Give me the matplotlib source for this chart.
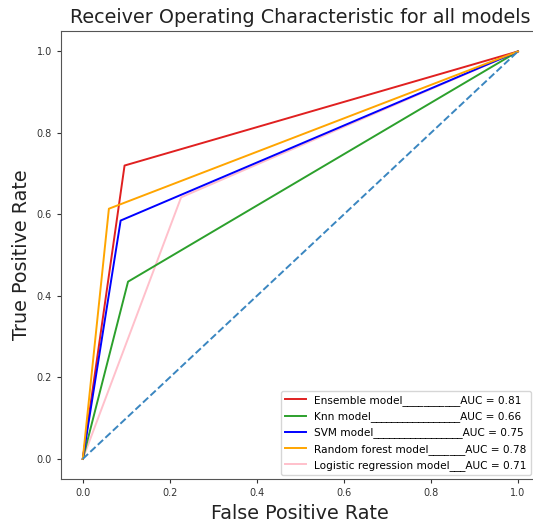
import matplotlib
matplotlib.use("Agg")
import matplotlib.pyplot as plt

models = ["Ensemble model___________AUC = 0.81",
          "Knn model_________________AUC = 0.66",
          "SVM model_________________AUC = 0.75",
          "Random forest model_______AUC = 0.78",
          "Logistic regression model___AUC = 0.71"]
colors = ["#e02020", "#2ca02c", "blue", "orange", "pink"]
fpr = [[0.0, 0.096, 1.0],
       [0.0, 0.104, 1.0],
       [0.0, 0.087, 1.0],
       [0.0, 0.060, 1.0],
       [0.0, 0.226, 1.0]]
tpr = [[0.0, 0.720, 1.0],
       [0.0, 0.435, 1.0],
       [0.0, 0.585, 1.0],
       [0.0, 0.614, 1.0],
       [0.0, 0.642, 1.0]]
ticks = [0.0, 0.2, 0.4, 0.6, 0.8, 1.0]

fig = plt.figure(figsize=(5.33, 5.23), dpi=100)
ax = fig.add_axes([0.1145, 0.0836, 0.898, 0.857])
zorders = [3, 3, 3, 3, 2]
for f, t, c, lab, z in zip(fpr, tpr, colors, models, zorders):
    ax.plot(f, t, color=c, label=lab, lw=1.4, zorder=z)
ax.plot([0, 1], [0, 1], linestyle="--", color="#3a86c0", lw=1.4, zorder=4)
ax.set_xlim(-0.05, 1.05)
ax.set_ylim(-0.05, 1.05)
ax.set_xticks(ticks)
ax.set_yticks(ticks)
ax.tick_params(labelsize=7, colors="#333333", length=3)
for s in ax.spines.values():
    s.set_color("#555555")
ax.spines["right"].set_visible(False)
ax.set_title("Receiver Operating Characteristic for all models", fontsize=13.8, color="#222222")
ax.set_xlabel("False Positive Rate", fontsize=13.8, color="#222222")
ax.set_ylabel("True Positive Rate", fontsize=13.8, color="#222222")
ax.legend(loc="lower right", bbox_to_anchor=(0.982, 0.0096), fontsize=7.6,
          framealpha=0.8, borderaxespad=0.0, handlelength=2.0)
fig.savefig("out.png", dpi=100)
